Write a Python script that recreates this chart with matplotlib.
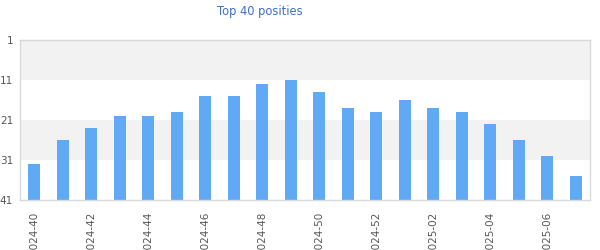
import matplotlib
matplotlib.use("Agg")
import matplotlib.pyplot as plt

weeks = ["2024-40", "2024-41", "2024-42", "2024-43", "2024-44", "2024-45", "2024-46",
         "2024-47", "2024-48", "2024-49", "2024-50", "2024-51", "2024-52", "2025-01",
         "2025-02", "2025-03", "2025-04", "2025-05", "2025-06", "2025-07"]
positions = [32, 26, 23, 20, 20, 19, 15, 15, 12, 11, 14, 18, 19, 16, 18, 19, 22, 26, 30, 35]
y_ticks = [1, 11, 21, 31, 41]

fig = plt.figure(figsize=(6, 2.5), dpi=100)
ax = fig.add_axes([20/600, 50/250, 570/600, 160/250])

# background bands
for lo, hi in [(1, 11), (21, 31)]:
    ax.axhspan(lo, hi, color="#f2f2f2", zorder=0, lw=0)
for yv in [11, 31]:
    ax.axhline(yv - 0.12, color="white", lw=0.75, ls=(0, (4, 4)),
               dash_capstyle="butt", zorder=1)

x = list(range(len(weeks)))
bottom = 41
ax.bar(x, [bottom - p for p in positions], bottom=positions, width=0.42,
       color="#60a9f5", zorder=2)

ax.set_ylim(41, 1)
ax.set_xlim(-0.5, len(weeks) - 0.5)
ax.set_yticks(y_ticks)
ax.set_yticklabels([str(v) for v in y_ticks])
ax.set_xticks(x[::2])
ax.set_xticklabels(weeks[::2], rotation=90, va="top", ha="center")
ax.tick_params(axis="both", length=0, colors="#555555", labelsize=7.5)
ax.tick_params(axis="y", pad=5)
ax.tick_params(axis="x", pad=8.5)
for s in ax.spines.values():
    s.set_color("#d9d9d9")
    s.set_linewidth(1)

fig.text(260/600, 1 - 11/250, "Top 40 posities", ha="center", va="center",
         color="#3f6fc6", fontsize=8.3)

fig.savefig("out.png", dpi=100)
